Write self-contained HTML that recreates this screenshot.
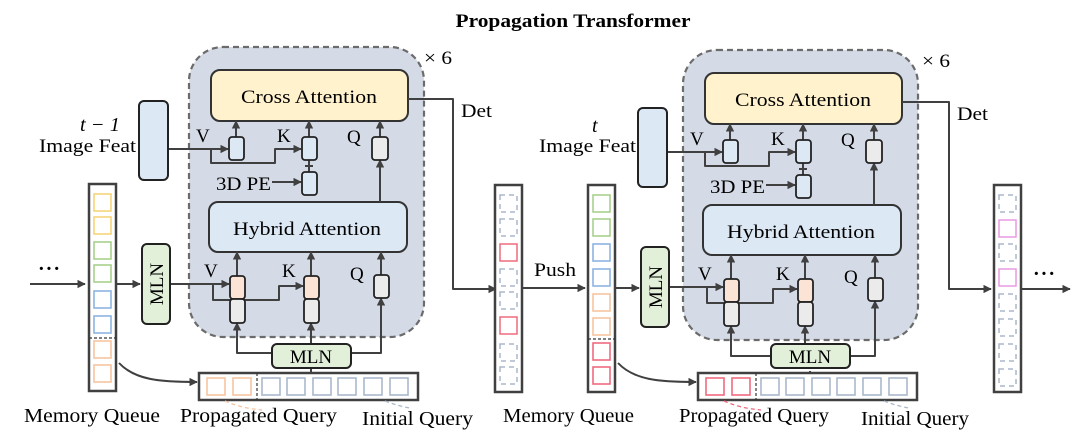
<!DOCTYPE html>
<html><head><meta charset="utf-8"><style>
html,body{margin:0;padding:0;background:#fff;}
svg{display:block;}
text{font-family:"Liberation Serif","Times New Roman",serif;}
</style></head><body>
<svg width="1073" height="435" viewBox="0 0 1073 435" xmlns="http://www.w3.org/2000/svg" font-family="Liberation Serif, serif">
<defs>
<marker id="a" viewBox="0 0 10 10" refX="9" refY="5" markerWidth="4.2" markerHeight="4.2" orient="auto"><path d="M0,0L10,5L0,10z" fill="#404040"/></marker>
</defs>
<text x="573" y="27" font-size="19" font-weight="bold" text-anchor="middle" textLength="235" lengthAdjust="spacingAndGlyphs">Propagation Transformer</text>

<!-- LEFT internals -->
<g stroke-linejoin="round">
<rect x="189" y="47" width="235" height="290" rx="34" fill="#d5dbe6" stroke="#6b6b6b" stroke-width="2.2" stroke-dasharray="6,4"/>
<text x="424" y="64" font-size="19" textLength="28" lengthAdjust="spacingAndGlyphs">× 6</text>
<rect x="211" y="70" width="197" height="51" rx="9" fill="#fff2cc" stroke="#333" stroke-width="2"/>
<text x="241" y="103" font-size="19" textLength="136" lengthAdjust="spacingAndGlyphs">Cross Attention</text>
<rect x="209" y="202" width="198" height="50" rx="9" fill="#dde8f5" stroke="#333" stroke-width="2"/>
<text x="233" y="235" font-size="19" textLength="148" lengthAdjust="spacingAndGlyphs">Hybrid Attention</text>
<g fill="none" stroke="#404040" stroke-width="2">
<path d="M408,99H453V289H496" marker-end="url(#a)"/>
<path d="M168,149H228" marker-end="url(#a)"/>
<path d="M211,149V163H275V149H301" marker-end="url(#a)"/>
<path d="M272,182H301" marker-end="url(#a)"/>
<path d="M309,160V172"/><path d="M305,166H313"/>
<path d="M236,137V121" marker-end="url(#a)"/>
<path d="M309,137V121" marker-end="url(#a)"/>
<path d="M380,137V121" marker-end="url(#a)"/>
<path d="M380,202V160" marker-end="url(#a)"/>
<path d="M237,276V252" marker-end="url(#a)"/>
<path d="M311,276V252" marker-end="url(#a)"/>
<path d="M381,275V252" marker-end="url(#a)"/>
<path d="M170,284H229" marker-end="url(#a)"/>
<path d="M213,284V300H279V286H303" marker-end="url(#a)"/>
<path d="M272,353H237V323" marker-end="url(#a)"/>
<path d="M311,344V323" marker-end="url(#a)"/>
<path d="M351,353H381V298" marker-end="url(#a)"/>
<path d="M311,368V373"/>
</g>
<g stroke="#222" stroke-width="1.8">
<rect x="229" y="137" width="15" height="23" rx="3" fill="#dde8f5"/>
<rect x="302" y="137" width="15" height="23" rx="3" fill="#dde8f5"/>
<rect x="302" y="172" width="15" height="23" rx="3" fill="#dde8f5"/>
<rect x="372" y="137" width="16" height="23" rx="3" fill="#ebebeb"/>
<rect x="230" y="276" width="15" height="23" rx="3" fill="#fbe3d6"/>
<rect x="230" y="299" width="15" height="24" rx="3" fill="#ebebeb"/>
<rect x="304" y="276" width="15" height="23" rx="3" fill="#fbe3d6"/>
<rect x="304" y="299" width="15" height="24" rx="3" fill="#ebebeb"/>
<rect x="374" y="275" width="15" height="23" rx="3" fill="#ebebeb"/>
</g>
<g font-size="19">
<text x="196" y="142">V</text><text x="277" y="142">K</text><text x="347" y="143">Q</text>
<text x="216" y="190" textLength="55" lengthAdjust="spacingAndGlyphs">3D PE</text>
<text x="204" y="277">V</text><text x="282" y="277">K</text><text x="350" y="280">Q</text>
<text x="461" y="117" textLength="31" lengthAdjust="spacingAndGlyphs">Det</text>
</g>
</g>

<!-- LEFT outer -->
<g>
<rect x="139" y="101" width="29" height="79" rx="5" fill="#dde8f5" stroke="#222" stroke-width="2"/>
<text x="80" y="131" font-size="20" font-style="italic" textLength="40" lengthAdjust="spacingAndGlyphs">t − 1</text>
<text x="39" y="152" font-size="19" textLength="97" lengthAdjust="spacingAndGlyphs">Image Feat</text>
<rect x="142" y="244" width="28" height="80" rx="5" fill="#e2efd9" stroke="#222" stroke-width="2"/>
<text transform="translate(163,284) rotate(-90)" font-size="19" text-anchor="middle">MLN</text>
<rect x="272" y="344" width="79" height="24" rx="5" fill="#e2efd9" stroke="#222" stroke-width="2"/>
<text x="311" y="363" font-size="19" text-anchor="middle">MLN</text>
<rect x="89" y="184" width="27" height="207" fill="#fff" stroke="#404040" stroke-width="2.5"/>
<g fill="none" stroke-width="1.6">
<rect x="94" y="194" width="17" height="17" stroke="#f5d57a"/>
<rect x="94" y="217" width="17" height="17" stroke="#f5d57a"/>
<rect x="94" y="242" width="17" height="17" stroke="#a8d18d"/>
<rect x="94" y="265" width="17" height="17" stroke="#a8d18d"/>
<rect x="94" y="291" width="17" height="17" stroke="#8db4e2"/>
<rect x="94" y="316" width="17" height="17" stroke="#8db4e2"/>
<rect x="94" y="341" width="17" height="17" stroke="#f7c4a0"/>
<rect x="94" y="365" width="17" height="17" stroke="#f7c4a0"/>
</g>
<path d="M89,338H116" stroke="#333" stroke-width="1.2" stroke-dasharray="3,2"/>
<path d="M30,284H85" stroke="#404040" stroke-width="2" fill="none" marker-end="url(#a)"/>
<text x="38" y="275" font-size="20" font-weight="bold" letter-spacing="1">···</text>
<path d="M116,284H140" stroke="#404040" stroke-width="2" marker-end="url(#a)"/>
<path d="M119,363C135,380 160,382 197,382" stroke="#404040" stroke-width="2" fill="none" marker-end="url(#a)"/>
<rect x="199" y="373" width="219" height="27" fill="#fff" stroke="#404040" stroke-width="2.5"/>
<g fill="none" stroke-width="1.6">
<rect x="207" y="378" width="18" height="17" stroke="#f7c4a0"/>
<rect x="233" y="378" width="18" height="17" stroke="#f7c4a0"/>
<rect x="262" y="378" width="18" height="17" stroke="#aab7cc"/>
<rect x="287" y="378" width="18" height="17" stroke="#aab7cc"/>
<rect x="313" y="378" width="18" height="17" stroke="#aab7cc"/>
<rect x="338" y="378" width="18" height="17" stroke="#aab7cc"/>
<rect x="364" y="378" width="18" height="17" stroke="#aab7cc"/>
<rect x="390" y="378" width="18" height="17" stroke="#aab7cc"/>
</g>
<path d="M257,373V400" stroke="#333" stroke-width="1.2" stroke-dasharray="3,2"/>
<path d="M225,401Q240,408 262,410" stroke="#f7c4a0" stroke-width="1.3" fill="none" stroke-dasharray="4,3"/>
<path d="M385,401Q398,406 410,408" stroke="#aab7cc" stroke-width="1.3" fill="none" stroke-dasharray="4,3"/>
<g font-size="20">
<text x="24" y="422" textLength="136" lengthAdjust="spacingAndGlyphs">Memory Queue</text>
<text x="180" y="422" textLength="157" lengthAdjust="spacingAndGlyphs">Propagated Query</text>
<text x="362" y="425" textLength="111" lengthAdjust="spacingAndGlyphs">Initial Query</text>
</g>
<rect x="495" y="185" width="27" height="207" fill="#fff" stroke="#404040" stroke-width="2.5"/>
<g fill="none" stroke-width="1.5">
<rect x="500" y="195" width="17" height="17" stroke="#aab7cc" stroke-dasharray="5,4"/>
<rect x="500" y="219" width="17" height="17" stroke="#aab7cc" stroke-dasharray="5,4"/>
<rect x="500" y="244" width="17" height="17" stroke="#ef6b7e"/>
<rect x="500" y="269" width="17" height="17" stroke="#aab7cc" stroke-dasharray="5,4"/>
<rect x="500" y="292" width="17" height="17" stroke="#aab7cc" stroke-dasharray="5,4"/>
<rect x="500" y="317" width="17" height="17" stroke="#ef6b7e"/>
<rect x="500" y="344" width="17" height="17" stroke="#aab7cc" stroke-dasharray="5,4"/>
<rect x="500" y="367" width="17" height="17" stroke="#aab7cc" stroke-dasharray="5,4"/>
</g>
<path d="M522,288H585" stroke="#404040" stroke-width="2" marker-end="url(#a)"/>
<text x="534" y="276" font-size="19" textLength="42" lengthAdjust="spacingAndGlyphs">Push</text>
</g>

<!-- RIGHT internals -->
<g transform="translate(494,3)" stroke-linejoin="round">
<rect x="189" y="47" width="235" height="290" rx="34" fill="#d5dbe6" stroke="#6b6b6b" stroke-width="2.2" stroke-dasharray="6,4"/>
<text x="428" y="64" font-size="19" textLength="28" lengthAdjust="spacingAndGlyphs">× 6</text>
<rect x="211" y="70" width="197" height="51" rx="9" fill="#fff2cc" stroke="#333" stroke-width="2"/>
<text x="241" y="103" font-size="19" textLength="136" lengthAdjust="spacingAndGlyphs">Cross Attention</text>
<rect x="209" y="202" width="198" height="50" rx="9" fill="#dde8f5" stroke="#333" stroke-width="2"/>
<text x="233" y="235" font-size="19" textLength="148" lengthAdjust="spacingAndGlyphs">Hybrid Attention</text>
<g fill="none" stroke="#404040" stroke-width="2">
<path d="M408,99H455V286H497" marker-end="url(#a)"/>
<path d="M173,149H228" marker-end="url(#a)"/>
<path d="M211,149V163H275V149H301" marker-end="url(#a)"/>
<path d="M272,182H301" marker-end="url(#a)"/>
<path d="M309,160V172"/><path d="M305,166H313"/>
<path d="M236,137V121" marker-end="url(#a)"/>
<path d="M309,137V121" marker-end="url(#a)"/>
<path d="M380,137V121" marker-end="url(#a)"/>
<path d="M380,202V160" marker-end="url(#a)"/>
<path d="M237,276V252" marker-end="url(#a)"/>
<path d="M311,276V252" marker-end="url(#a)"/>
<path d="M381,275V252" marker-end="url(#a)"/>
<path d="M175,284H229" marker-end="url(#a)"/>
<path d="M213,284V300H279V286H303" marker-end="url(#a)"/>
<path d="M277,353H237V323" marker-end="url(#a)"/>
<path d="M311,344V323" marker-end="url(#a)"/>
<path d="M356,353H381V298" marker-end="url(#a)"/>
<path d="M316,368V373"/>
</g>
<g stroke="#222" stroke-width="1.8">
<rect x="229" y="137" width="15" height="23" rx="3" fill="#dde8f5"/>
<rect x="302" y="137" width="15" height="23" rx="3" fill="#dde8f5"/>
<rect x="302" y="172" width="15" height="23" rx="3" fill="#dde8f5"/>
<rect x="372" y="137" width="16" height="23" rx="3" fill="#ebebeb"/>
<rect x="230" y="276" width="15" height="23" rx="3" fill="#fbe3d6"/>
<rect x="230" y="299" width="15" height="24" rx="3" fill="#ebebeb"/>
<rect x="304" y="276" width="15" height="23" rx="3" fill="#fbe3d6"/>
<rect x="304" y="299" width="15" height="24" rx="3" fill="#ebebeb"/>
<rect x="374" y="275" width="15" height="23" rx="3" fill="#ebebeb"/>
</g>
<g font-size="19">
<text x="196" y="142">V</text><text x="277" y="142">K</text><text x="347" y="143">Q</text>
<text x="216" y="190" textLength="55" lengthAdjust="spacingAndGlyphs">3D PE</text>
<text x="204" y="277">V</text><text x="282" y="277">K</text><text x="350" y="280">Q</text>
<text x="463" y="117" textLength="31" lengthAdjust="spacingAndGlyphs">Det</text>
</g>
</g>

<!-- RIGHT outer -->
<g transform="translate(499,0)">
<rect x="139" y="108" width="29" height="79" rx="5" fill="#dde8f5" stroke="#222" stroke-width="2"/>
<text x="93" y="132" font-size="20" font-style="italic">t</text>
<text x="40" y="152" font-size="19" textLength="97" lengthAdjust="spacingAndGlyphs">Image Feat</text>
<rect x="142" y="247" width="28" height="80" rx="5" fill="#e2efd9" stroke="#222" stroke-width="2"/>
<text transform="translate(163,287) rotate(-90)" font-size="19" text-anchor="middle">MLN</text>
<rect x="272" y="344" width="79" height="24" rx="5" fill="#e2efd9" stroke="#222" stroke-width="2"/>
<text x="311" y="363" font-size="19" text-anchor="middle">MLN</text>
<rect x="89" y="185" width="27" height="207" fill="#fff" stroke="#404040" stroke-width="2.5"/>
<g fill="none" stroke-width="1.6">
<rect x="94" y="195" width="17" height="17" stroke="#a8d18d"/>
<rect x="94" y="219" width="17" height="17" stroke="#a8d18d"/>
<rect x="94" y="244" width="17" height="17" stroke="#8db4e2"/>
<rect x="94" y="269" width="17" height="17" stroke="#8db4e2"/>
<rect x="94" y="294" width="17" height="17" stroke="#f7c4a0"/>
<rect x="94" y="318" width="17" height="17" stroke="#f7c4a0"/>
<rect x="94" y="343" width="17" height="17" stroke="#ef6b7e"/>
<rect x="94" y="367" width="17" height="17" stroke="#ef6b7e"/>
</g>
<path d="M89,339H116" stroke="#333" stroke-width="1.2" stroke-dasharray="3,2"/>
<path d="M116,288H140" stroke="#404040" stroke-width="2" marker-end="url(#a)"/>
<path d="M119,363C135,380 160,382 197,382" stroke="#404040" stroke-width="2" fill="none" marker-end="url(#a)"/>
<rect x="199" y="373" width="219" height="27" fill="#fff" stroke="#404040" stroke-width="2.5"/>
<g fill="none" stroke-width="1.6">
<rect x="207" y="378" width="18" height="17" stroke="#ef6b7e"/>
<rect x="233" y="378" width="18" height="17" stroke="#ef6b7e"/>
<rect x="262" y="378" width="18" height="17" stroke="#aab7cc"/>
<rect x="287" y="378" width="18" height="17" stroke="#aab7cc"/>
<rect x="313" y="378" width="18" height="17" stroke="#aab7cc"/>
<rect x="338" y="378" width="18" height="17" stroke="#aab7cc"/>
<rect x="364" y="378" width="18" height="17" stroke="#aab7cc"/>
<rect x="390" y="378" width="18" height="17" stroke="#aab7cc"/>
</g>
<path d="M257,373V400" stroke="#333" stroke-width="1.2" stroke-dasharray="3,2"/>
<path d="M225,401Q240,408 262,410" stroke="#ef6b7e" stroke-width="1.3" fill="none" stroke-dasharray="4,3"/>
<path d="M385,401Q398,406 410,408" stroke="#aab7cc" stroke-width="1.3" fill="none" stroke-dasharray="4,3"/>
<g font-size="20">
<text x="4" y="422" textLength="131" lengthAdjust="spacingAndGlyphs">Memory Queue</text>
<text x="180" y="422" textLength="150" lengthAdjust="spacingAndGlyphs">Propagated Query</text>
<text x="362" y="425" textLength="108" lengthAdjust="spacingAndGlyphs">Initial Query</text>
</g>
<rect x="495" y="185" width="27" height="207" fill="#fff" stroke="#404040" stroke-width="2.5"/>
<g fill="none" stroke-width="1.5">
<rect x="500" y="195" width="17" height="17" stroke="#aab7cc" stroke-dasharray="5,4"/>
<rect x="500" y="220" width="17" height="17" stroke="#e99be3"/>
<rect x="500" y="244" width="17" height="17" stroke="#aab7cc" stroke-dasharray="5,4"/>
<rect x="500" y="269" width="17" height="17" stroke="#e99be3"/>
<rect x="500" y="294" width="17" height="17" stroke="#aab7cc" stroke-dasharray="5,4"/>
<rect x="500" y="319" width="17" height="17" stroke="#aab7cc" stroke-dasharray="5,4"/>
<rect x="500" y="344" width="17" height="17" stroke="#aab7cc" stroke-dasharray="5,4"/>
<rect x="500" y="369" width="17" height="17" stroke="#aab7cc" stroke-dasharray="5,4"/>
</g>
<path d="M522,289H571" stroke="#404040" stroke-width="2" marker-end="url(#a)"/>
<text x="534" y="280" font-size="20" font-weight="bold" letter-spacing="1">···</text>
</g>
</svg>
</body></html>
